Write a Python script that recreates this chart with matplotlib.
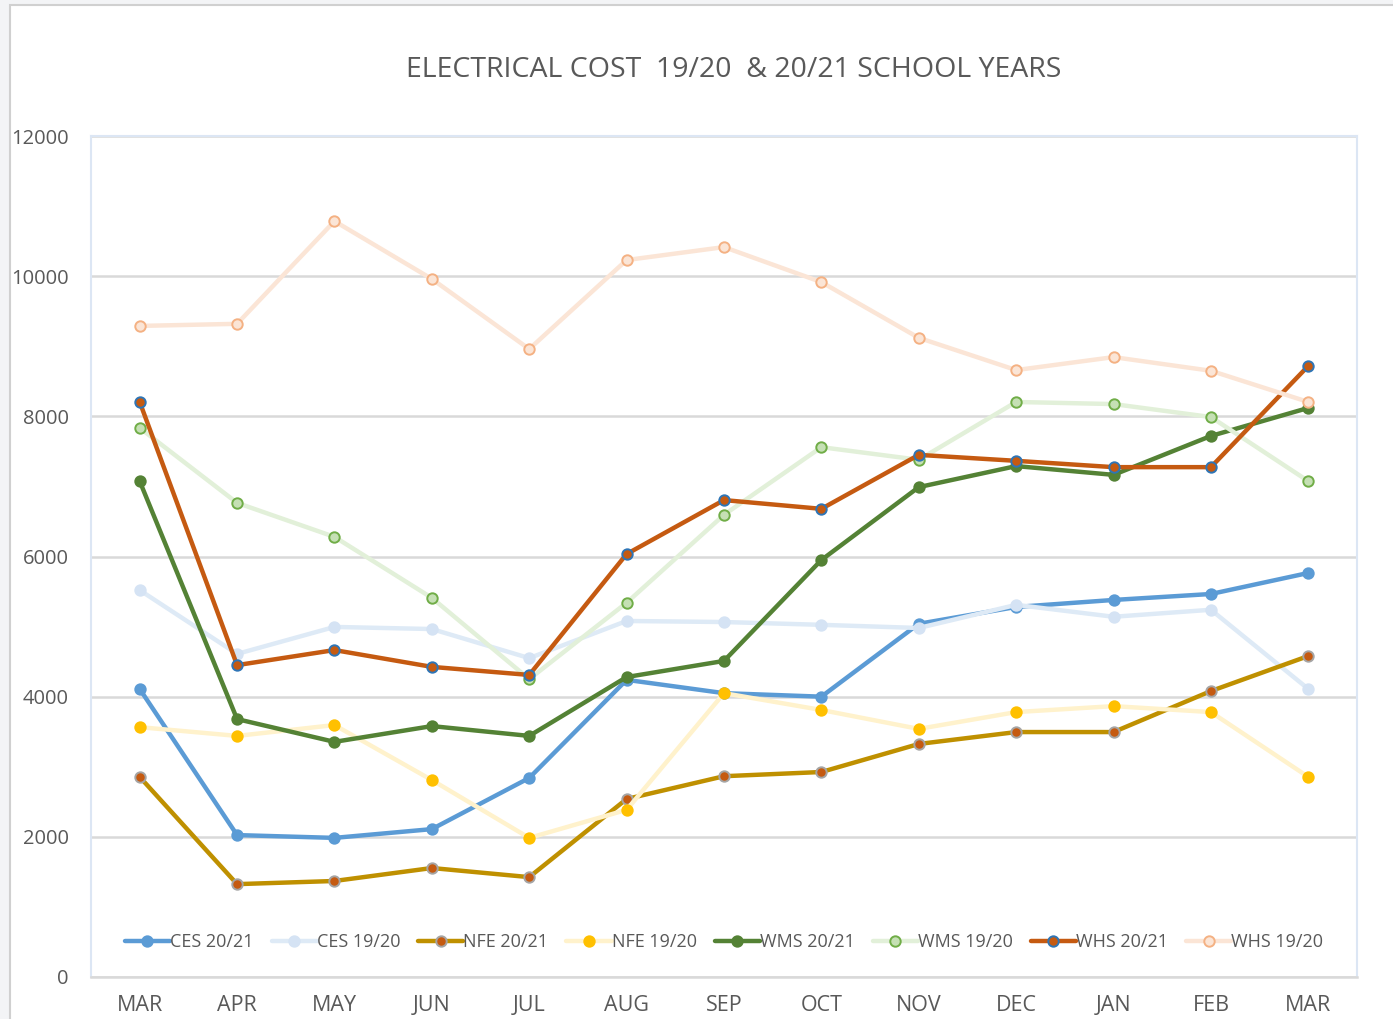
import matplotlib
matplotlib.use("Agg")
import matplotlib.pyplot as plt
from matplotlib.patches import Rectangle

months = ["MAR", "APR", "MAY", "JUN", "JUL", "AUG", "SEP", "OCT", "NOV", "DEC", "JAN", "FEB", "MAR"]

ces_2021 = [4110, 2025, 1985, 2110, 2840, 4240, 4050, 4000, 5040, 5280, 5380, 5465, 5765]
ces_1920 = [5520, 4610, 4995, 4965, 4550, 5080, 5065, 5025, 4980, 5310, 5140, 5240, 4110]
nfe_2021 = [2855, 1325, 1370, 1555, 1425, 2540, 2865, 2925, 3325, 3495, 3495, 4080, 4580]
nfe_1920 = [3565, 3440, 3595, 2810, 1985, 2385, 4050, 3810, 3540, 3780, 3865, 3780, 2855]
wms_2021 = [7075, 3680, 3355, 3580, 3440, 4280, 4510, 5950, 6990, 7290, 7165, 7720, 8120]
wms_1920 = [7835, 6765, 6280, 5410, 4250, 5340, 6595, 7560, 7380, 8205, 8175, 7990, 7075]
whs_2021 = [8205, 4450, 4665, 4425, 4310, 6035, 6805, 6680, 7450, 7365, 7275, 7275, 8720]
whs_1920 = [9290, 9320, 10785, 9960, 8960, 10230, 10415, 9915, 9120, 8660, 8845, 8650, 8205]

series = [
    ("CES 20/21", ces_2021, dict(color="#5B9BD5", mfc="#5B9BD5", mec="#5B9BD5")),
    ("CES 19/20", ces_1920, dict(color="#DEEAF6", mfc="#D5E3F4", mec="#D5E3F4")),
    ("NFE 20/21", nfe_2021, dict(color="#BF9000", mfc="#C55A11", mec="#A5A5A5")),
    ("NFE 19/20", nfe_1920, dict(color="#FFF2CC", mfc="#FFC000", mec="#FFC000")),
    ("WMS 20/21", wms_2021, dict(color="#548235", mfc="#548235", mec="#548235")),
    ("WMS 19/20", wms_1920, dict(color="#E2F0D9", mfc="#C5E0B4", mec="#70AD47")),
    ("WHS 20/21", whs_2021, dict(color="#C55A11", mfc="#C55A11", mec="#2E75B6")),
    ("WHS 19/20", whs_1920, dict(color="#FBE5D6", mfc="#FBE5D6", mec="#F4B183")),
]

plt.rcParams['font.family'] = ['Open Sans', 'DejaVu Sans']

fig = plt.figure(figsize=(13.93, 10.19), dpi=100)
fig.patch.set_facecolor("#F3F4F6")
W, H = 1393, 1019
bg = Rectangle((10 / W, -0.01), 1 - 10 / W + 0.01, 1 - 5 / H + 0.01, transform=fig.transFigure,
               facecolor="white", edgecolor="#D0D0D0", linewidth=1.5, zorder=-10)
fig.add_artist(bg)

ax = fig.add_axes([91 / W, 1 - 977 / H, (1357 - 91) / W, (977 - 136) / H])
ax.set_zorder(5)
ax.set_facecolor("white")
x = list(range(len(months)))
for name, vals, st in series:
    ax.plot(x, vals, label=name, linewidth=3.2, marker="o", markersize=7.5,
            markeredgewidth=1.4, solid_capstyle="round", zorder=3, **st)

ax.set_xlim(-0.5, len(months) - 0.5)
ax.set_ylim(0, 12000)
ax.set_yticks(range(0, 12001, 2000))
ax.set_xticks(x)
ax.set_xticklabels(months)
ax.grid(axis="y", color="#D9D9D9", linewidth=1.8)
ax.set_axisbelow(True)
ax.tick_params(axis="both", length=0, colors="#595959")
ax.tick_params(axis="y", pad=16, labelsize=14.5)
ax.tick_params(axis="x", pad=13, labelsize=15.5)
for s in ["left", "right", "top"]:
    ax.spines[s].set_color("#DCE6F4")
    ax.spines[s].set_linewidth(1.5)
ax.spines["bottom"].set_color("#D9D9D9")
ax.spines["bottom"].set_linewidth(1.8)

fig.text(734 / W, 1 - 70 / H, "ELECTRICAL COST  19/20  & 20/21 SCHOOL YEARS",
         ha="center", va="center", fontsize=20.5, color="#595959", zorder=6)

leg = ax.legend(loc="center", bbox_to_anchor=(0.5, (977 - 942) / (977 - 136)), ncol=8,
                frameon=False, fontsize=13, handlelength=2.5, handletextpad=0.0,
                columnspacing=1.0, labelcolor="#595959")

fig.savefig("out.png", dpi=100, facecolor=fig.get_facecolor())
